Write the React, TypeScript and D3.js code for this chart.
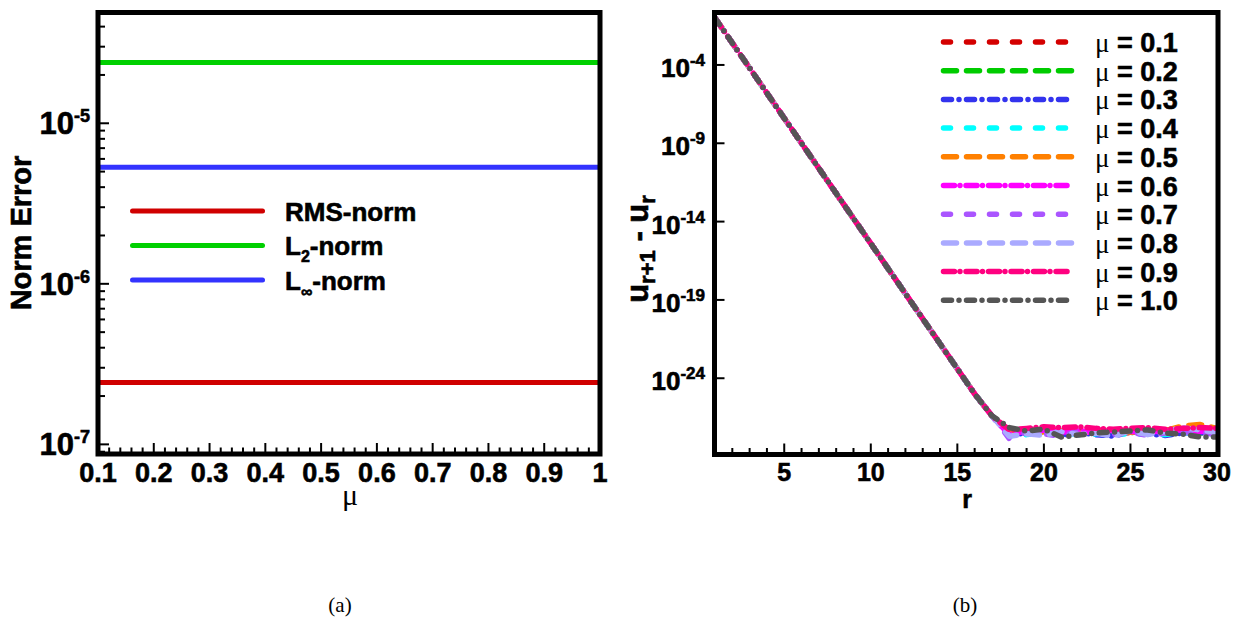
import React, { useEffect, useRef } from 'react';
import * as d3 from 'd3';

// ---------- panel (a): norm error vs mu ----------
const muValues = [0.1, 0.2, 0.3, 0.4, 0.5, 0.6, 0.7, 0.8, 0.9, 1.0];
const rmsNorm = [2.43e-7, 2.43e-7, 2.43e-7, 2.43e-7, 2.43e-7, 2.43e-7, 2.43e-7, 2.43e-7, 2.43e-7, 2.43e-7];
const l2Norm = [2.39e-5, 2.39e-5, 2.39e-5, 2.39e-5, 2.39e-5, 2.39e-5, 2.39e-5, 2.39e-5, 2.39e-5, 2.39e-5];
const linfNorm = [5.33e-6, 5.33e-6, 5.33e-6, 5.33e-6, 5.33e-6, 5.33e-6, 5.33e-6, 5.33e-6, 5.33e-6, 5.33e-6];
const muTicks = [0.1, 0.2, 0.3, 0.4, 0.5, 0.6, 0.7, 0.8, 0.9, 1];
const muTickLabels = ['0.1', '0.2', '0.3', '0.4', '0.5', '0.6', '0.7', '0.8', '0.9', '1'];
const normTickExps = [-7, -6, -5];

// ---------- panel (b): u_{r+1} - u_r vs r ----------
const iterations = [1, 2, 3, 4, 5, 6, 7, 8, 9, 10, 11, 12, 13, 14, 15, 16, 17, 18, 19, 20, 21, 22, 23, 24, 25, 26, 27, 28, 29, 30];
// log10 of the difference, r = 1..17 (all mu curves lie on top of each other here)
const decayLog = [-1.0, -2.6, -4.2, -5.8, -7.4, -9.0, -10.6, -12.2, -13.8, -15.4, -17.0, -18.6, -20.2, -21.8, -23.4, -25.0, -26.4];
// log10 of the difference, r = 18..30 (machine-precision plateau), one row per mu
const plateauLog = [
  [-27.45, -27.35, -27.3, -27.35, -27.45, -27.3, -27.4, -27.5, -27.35, -27.3, -27.45, -27.4, -27.35],
  [-27.55, -27.45, -27.35, -27.5, -27.4, -27.55, -27.35, -27.45, -27.5, -27.4, -27.35, -27.5, -27.45],
  [-27.6, -27.5, -27.4, -27.65, -27.45, -27.6, -27.7, -27.4, -27.55, -27.65, -27.5, -27.45, -27.6],
  [-27.75, -27.6, -27.5, -27.45, -27.6, -27.55, -27.4, -27.65, -27.5, -27.6, -27.45, -27.5, -27.4],
  [-27.5, -27.4, -27.45, -27.35, -27.5, -27.4, -27.3, -27.45, -27.4, -27.35, -27.05, -26.95, -27.2],
  [-27.6, -27.35, -27.3, -27.45, -27.35, -27.5, -27.3, -27.4, -27.45, -27.35, -27.3, -27.4, -27.35],
  [-27.85, -27.45, -27.55, -27.7, -27.4, -27.5, -27.6, -27.45, -27.65, -27.5, -27.4, -27.55, -27.5],
  [-27.7, -27.55, -27.65, -27.4, -27.6, -27.5, -27.7, -27.35, -27.6, -27.4, -27.15, -27.3, -27.45],
  [-27.3, -27.2, -27.1, -27.15, -27.1, -27.2, -27.25, -27.2, -27.15, -27.25, -27.2, -27.15, -27.2],
  [-27.15, -27.37, -27.25, -27.75, -27.63, -27.5, -27.43, -27.37, -27.3, -27.5, -27.56, -27.75, -27.75],
];
const seriesMu = ['0.1', '0.2', '0.3', '0.4', '0.5', '0.6', '0.7', '0.8', '0.9', '1.0'];
const rTicks = [5, 10, 15, 20, 25, 30];
const residualTickExps = [-4, -9, -14, -19, -24];

// styles
const seriesColors = ['#d40000', '#00cc00', '#3333ee', '#00ffff', '#ff8000', '#ff00ff', '#aa55ff', '#aaaaff', '#ff0080', '#555555'];
const DASHED = '7 16';
const LONGDASH = '13 10';
const DASHDOT = '8 7.5 0 7.5';
const DENSE = '11 5.5 0 6';
const seriesDash = [DASHED, LONGDASH, DASHDOT, DASHED, LONGDASH, DENSE, DASHED, LONGDASH, DENSE, DASHDOT];

const SANS = '"Liberation Sans", Arial, sans-serif';
const SERIF = '"Liberation Serif", "Times New Roman", serif';
const HEAVY = 0.6; // extra stroke so bold text looks as heavy as the reference

type Sel = d3.Selection<any, unknown, null, undefined>;

function boldText(g: Sel, size: number) {
  return g.append('text')
    .attr('font-family', SANS)
    .attr('font-weight', 'bold')
    .attr('font-size', size)
    .attr('stroke', '#000')
    .attr('stroke-width', HEAVY);
}

function powLabel(g: Sel, x: number, y: number, exp: number, size: number, supSize: number, rise: number) {
  const t = boldText(g, size).attr('x', x).attr('y', y).attr('text-anchor', 'end');
  t.append('tspan').text('10');
  t.append('tspan').attr('dy', -rise).attr('font-size', supSize).text(String(exp));
}

function drawPanelA(svg: Sel) {
  const A = { left: 98, right: 600, top: 12.5, bottom: 454 };
  const x = d3.scaleLinear().domain([0.1, 1]).range([A.left, A.right]);
  const y = d3.scaleLog().domain([Math.pow(10, -7.06), Math.pow(10, -4.31)]).range([A.bottom, A.top]);

  svg.append('clipPath').attr('id', 'clipA')
    .append('rect').attr('x', A.left).attr('y', A.top).attr('width', A.right - A.left).attr('height', A.bottom - A.top);

  const line = d3.line<number>().x((_, i) => x(muValues[i])).y(d => y(d));
  const plot = svg.append('g').attr('clip-path', 'url(#clipA)');
  const series = [
    { values: l2Norm, color: '#00d000' },
    { values: linfNorm, color: '#3333ff' },
    { values: rmsNorm, color: '#d00000' },
  ];
  series.forEach(s => {
    plot.append('path').attr('d', line(s.values)).attr('fill', 'none')
      .attr('stroke', s.color).attr('stroke-width', 5);
  });

  // ticks
  const ticks = svg.append('g').attr('stroke', '#000').attr('stroke-width', 2);
  y.ticks().forEach(v => {
    const major = Math.abs(Math.log10(v) - Math.round(Math.log10(v))) < 1e-6;
    ticks.append('line').attr('x1', A.left).attr('x2', A.left + (major ? 11 : 7))
      .attr('y1', y(v)).attr('y2', y(v));
  });
  x.ticks(45).forEach(v => {
    const major = muTicks.some(m => Math.abs(m - v) < 1e-6);
    ticks.append('line').attr('y1', A.bottom).attr('y2', A.bottom - (major ? 11 : 6.5))
      .attr('x1', x(v)).attr('x2', x(v));
  });

  svg.append('rect').attr('x', A.left).attr('y', A.top).attr('width', A.right - A.left).attr('height', A.bottom - A.top)
    .attr('fill', 'none').attr('stroke', '#000').attr('stroke-width', 5);

  const labels = svg.append('g');
  muTicks.forEach((v, i) => {
    boldText(labels, 27).attr('x', x(v)).attr('y', 482).attr('text-anchor', 'middle').text(muTickLabels[i]);
  });
  normTickExps.forEach(e => powLabel(labels, 90, y(Math.pow(10, e)) + 11, e, 31, 18, 12));

  labels.append('text').attr('x', 350).attr('y', 505).attr('text-anchor', 'middle')
    .attr('font-family', SERIF).attr('font-size', 30).text('μ');
  boldText(labels, 29).attr('transform', 'translate(31,233) rotate(-90)').attr('text-anchor', 'middle')
    .text('Norm Error');

  // legend
  const legend = svg.append('g');
  const rows = [
    { color: '#d00000', name: 'RMS', sub: '' },
    { color: '#00d000', name: 'L', sub: '2' },
    { color: '#3333ff', name: 'L', sub: '∞' },
  ];
  rows.forEach((r, i) => {
    const yy = 211 + i * 34.5;
    legend.append('line').attr('x1', 132.5).attr('x2', 262.5).attr('y1', yy).attr('y2', yy)
      .attr('stroke', r.color).attr('stroke-width', 5).attr('stroke-linecap', 'round');
    const t = boldText(legend, 26).attr('x', 285).attr('y', yy + 9.5);
    t.append('tspan').text(r.name);
    if (r.sub) {
      t.append('tspan').attr('dy', 7).attr('font-size', 16).text(r.sub);
      t.append('tspan').attr('dy', -7).text('-norm');
    } else {
      t.append('tspan').text('-norm');
    }
  });
}

function drawPanelB(svg: Sel) {
  const B = { left: 714.5, right: 1218, top: 12.5, bottom: 454.5 };
  const x = d3.scaleLinear().domain([1, 30]).range([715, 1217]);
  const y = d3.scaleLog().domain([Math.pow(10, -28.9), Math.pow(10, -0.62)]).range([455, 12]);

  svg.append('clipPath').attr('id', 'clipB')
    .append('rect').attr('x', B.left).attr('y', B.top).attr('width', B.right - B.left).attr('height', B.bottom - B.top);

  const line = d3.line<number>().x((_, i) => x(iterations[i])).y(d => y(d));
  const plot = svg.append('g').attr('clip-path', 'url(#clipB)');
  plateauLog.forEach((p, s) => {
    const values = decayLog.concat(p).map(e => Math.pow(10, e));
    plot.append('path').attr('d', line(values)).attr('fill', 'none')
      .attr('stroke', seriesColors[s]).attr('stroke-width', 5.5)
      .attr('stroke-dasharray', seriesDash[s])
      .attr('stroke-linecap', 'round').attr('stroke-linejoin', 'round');
  });

  const ticks = svg.append('g').attr('stroke', '#000').attr('stroke-width', 2);
  residualTickExps.forEach(e => {
    const yy = y(Math.pow(10, e));
    ticks.append('line').attr('x1', B.left).attr('x2', B.left + 10).attr('y1', yy).attr('y2', yy);
  });
  x.ticks(29).forEach(v => {
    const major = rTicks.indexOf(v) >= 0;
    ticks.append('line').attr('y1', B.bottom).attr('y2', B.bottom - (major ? 11 : 6.5))
      .attr('x1', x(v)).attr('x2', x(v));
  });

  svg.append('rect').attr('x', B.left).attr('y', B.top).attr('width', B.right - B.left).attr('height', B.bottom - B.top)
    .attr('fill', 'none').attr('stroke', '#000').attr('stroke-width', 5);

  const labels = svg.append('g');
  rTicks.forEach(v => {
    boldText(labels, 25).attr('x', x(v)).attr('y', 481).attr('text-anchor', 'middle').text(String(v));
  });
  residualTickExps.forEach(e => powLabel(labels, 705, y(Math.pow(10, e)) + 12, e, 26, 17, 11));

  boldText(labels, 25).attr('x', 967).attr('y', 508).attr('text-anchor', 'middle').text('r');

  const yl = boldText(labels, 31).attr('transform', 'translate(648,249) rotate(-90)').attr('text-anchor', 'middle');
  yl.append('tspan').text('u');
  yl.append('tspan').attr('dy', 7).attr('font-size', 22).text('r+1');
  yl.append('tspan').attr('dy', -7).text(' - u');
  yl.append('tspan').attr('dy', 7).attr('font-size', 22).text('r');

  // legend
  const legend = svg.append('g');
  seriesMu.forEach((m, i) => {
    const yy = 42 + i * 28.7;
    legend.append('line').attr('x1', 943.5).attr('x2', 1072.5).attr('y1', yy).attr('y2', yy)
      .attr('stroke', seriesColors[i]).attr('stroke-width', 5.5)
      .attr('stroke-dasharray', seriesDash[i]).attr('stroke-linecap', 'round');
    const t = legend.append('text').attr('x', 1095).attr('y', yy + 10).attr('font-size', 27);
    t.append('tspan').attr('font-family', SERIF).text('μ');
    t.append('tspan').attr('font-family', SANS).attr('font-weight', 'bold')
      .attr('stroke', '#000').attr('stroke-width', HEAVY).text(' = ' + m);
  });
}

export default function App() {
  const svgRef = useRef<SVGSVGElement | null>(null);

  useEffect(() => {
    if (!svgRef.current) return;
    const svg = d3.select(svgRef.current) as unknown as Sel;
    svg.selectAll('*').remove();
    svg.append('rect').attr('width', 1238).attr('height', 622).attr('fill', '#fff');

    drawPanelA(svg);
    drawPanelB(svg);

    // sub-figure captions
    [['(a)', 340], ['(b)', 965]].forEach(([c, cx]) => {
      svg.append('text').attr('x', cx as number).attr('y', 612).attr('text-anchor', 'middle')
        .attr('font-family', SERIF).attr('font-size', 21).text(c as string);
    });
  }, []);

  return (
    <svg ref={svgRef} width={1238} height={622}
      style={{ position: 'absolute', left: 0, top: 0, display: 'block' }} />
  );
}
